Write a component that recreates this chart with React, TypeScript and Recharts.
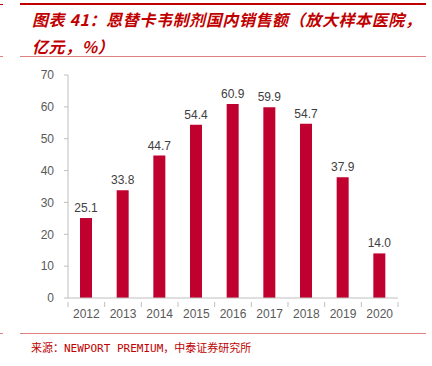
import { BarChart, Bar, XAxis, YAxis, LabelList } from "recharts";

const years = ["2012", "2013", "2014", "2015", "2016", "2017", "2018", "2019", "2020"];
const sales = [25.1, 33.8, 44.7, 54.4, 60.9, 59.9, 54.7, 37.9, 14.0];
const yTicks = [0, 10, 20, 30, 40, 50, 60, 70];

const data = years.map((y, i) => ({ year: y, value: sales[i] }));

const RED = "#c00000";
const BAR = "#c0002f";
const AXIS = "#bfbfbf";

const YearTick = (props: any) => {
  const { x, y, payload, index } = props;
  const half = payload?.offset ?? 18.3;
  return (
    <g>
      <line x1={x - half} y1={y - 4} x2={x - half} y2={y + 1} stroke={AXIS} />
      {index === years.length - 1 && (
        <line x1={x + half} y1={y - 4} x2={x + half} y2={y + 1} stroke={AXIS} />
      )}
      <text x={x} y={y + 12} textAnchor="middle" fontSize={12} fill="#595959">
        {payload.value}
      </text>
    </g>
  );
};

export default function App() {
  return (
    <div
      style={{
        position: "absolute",
        left: 0,
        top: 0,
        width: 432,
        height: 366,
        background: "#fff",
        fontFamily: "Liberation Sans, Arial, sans-serif",
      }}
    >
      <div style={{ position: "absolute", left: 0, top: 4, width: 3, height: 1, background: RED }} />
      <div style={{ position: "absolute", left: 20, top: 3, width: 406, height: 2, background: RED }} />
      <div
        style={{
          position: "absolute",
          left: 32,
          top: 6,
          width: 400,
          color: RED,
          fontFamily: "Noto Sans CJK SC",
          fontWeight: 700,
          fontStyle: "italic",
          fontSize: 16,
          letterSpacing: 0.6,
          lineHeight: "27px",
          whiteSpace: "nowrap",
        }}
      >
        <div>图表 41：恩替卡韦制剂国内销售额（放大样本医院，</div>
        <div>亿元，%）</div>
      </div>
      <div style={{ position: "absolute", left: 0, top: 56, width: 3, height: 1, background: "#e08080" }} />
      <div style={{ position: "absolute", left: 20, top: 56, width: 406, height: 1, background: "#e08080" }} />

      <div style={{ position: "absolute", left: 0, top: 60 }}>
        <BarChart
          width={432}
          height={260}
          data={data}
          margin={{ top: 15, right: 34, bottom: 0, left: 0 }}
          barSize={12}
        >
          <XAxis
            dataKey="year"
            height={22}
            axisLine={{ stroke: AXIS }}
            tickLine={false}
            tick={<YearTick />}
            interval={0}
          />
          <YAxis
            width={68}
            domain={[0, 70]}
            ticks={yTicks}
            interval={0}
            axisLine={{ stroke: AXIS }}
            tickLine={{ stroke: AXIS }}
            tickSize={4}
            tickMargin={10}
            tick={{ fontSize: 12, fill: "#595959" }}
          />
          <Bar dataKey="value" fill={BAR} isAnimationActive={false}>
            <LabelList
              dataKey="value"
              position="top"
              offset={6}
              fontSize={12}
              fill="#404040"
              formatter={(v: any) => Number(v).toFixed(1)}
            />
          </Bar>
        </BarChart>
      </div>

      <div style={{ position: "absolute", left: 0, top: 333, width: 3, height: 1, background: "#e08080" }} />
      <div style={{ position: "absolute", left: 20, top: 333, width: 406, height: 1, background: "#e08080" }} />
      <div
        style={{
          position: "absolute",
          left: 31,
          top: 339,
          color: RED,
          fontFamily: "DejaVu Sans Mono, Noto Sans CJK SC",
          fontSize: 11,
          whiteSpace: "nowrap",
        }}
      >
        来源：NEWPORT PREMIUM，中泰证券研究所
      </div>
    </div>
  );
}
